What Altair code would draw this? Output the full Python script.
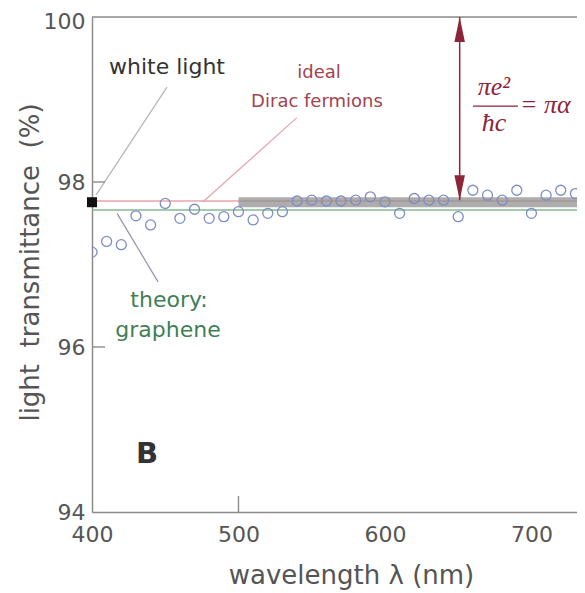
import altair as alt
import pandas as pd

# ---------------- data ----------------
wavelength = [400, 410, 420, 430, 440, 450, 460, 470, 480, 490,
              500, 510, 520, 530, 540, 550, 560, 570, 580, 590,
              600, 610, 620, 630, 640, 650, 660, 670, 680, 690,
              700, 710, 720, 730]
transmittance = [97.15, 97.28, 97.24, 97.59, 97.48, 97.74, 97.56, 97.67, 97.56, 97.58,
                 97.64, 97.54, 97.62, 97.64, 97.77, 97.78, 97.77, 97.77, 97.78, 97.82,
                 97.76, 97.62, 97.80, 97.78, 97.78, 97.58, 97.90, 97.84, 97.78, 97.90,
                 97.62, 97.84, 97.90, 97.86]

white_light_wl = [400]
white_light_T = [97.755]

ideal_x = [400, 750]
ideal_T = [97.77, 97.77]
band_x = [500, 750]
band_T = [97.755, 97.755]
theory_x = [400, 750]
theory_T = [97.66, 97.66]

x_domain = [400, 731.1]
y_domain = [94, 100]
x_tick_values = [400, 500, 600, 700]
y_tick_values = [94, 96, 98, 100]
inner_y_ticks = [96, 98]
inner_x_ticks = [500]
frame_top = [100]

# annotation anchors (data coordinates)
white_label = ["white light"]
white_label_x = [451.2]
white_label_y = [99.39]
ideal_labels = ["ideal", "Dirac fermions"]
ideal_labels_x = [555.0, 553.6]
ideal_labels_y = [99.32, 98.97]
theory_labels = ["theory:", "graphene"]
theory_labels_x = [452.6, 451.9]
theory_labels_y = [96.57, 96.21]
panel_label = ["B"]
panel_label_x = [437.5]
panel_label_y = [94.70]

leader_x = [451.2, 539.9, 417.1]
leader_y = [99.15, 98.78, 97.62]
leader_x2 = [402.7, 475.8, 445.1]
leader_y2 = [97.84, 97.76, 96.79]
leader_col = ["#b4b4b4", "#e8a4ae", "#9292b2"]

arrow_x = [651]
arrow_top = [100.0]
arrow_bottom = [97.78]

frac_num = ["πe²"]
frac_den = ["ħc"]
frac_x = [674.4]
frac_num_y = [99.05]
frac_den_y = [98.62]
frac_bar_x = [660.1]
frac_bar_x2 = [690.8]
frac_bar_y = [98.92]
eq_text = ["= πα"]
eq_x = [692.2]
eq_y = [98.84]

# ---------------- chart ----------------
W, H = 485, 495
FONT = "DejaVu Sans"
AX = "#8c8c8c"
TXT = "#555555"
RED = "#8e2438"

xs = alt.Scale(domain=x_domain, nice=False, zero=False)
ys = alt.Scale(domain=y_domain, nice=False, zero=False)

AXIS_X = alt.Axis(
    values=x_tick_values, title="wavelength λ (nm)", ticks=False, grid=False,
    labelFontSize=22, labelColor=TXT, labelFont=FONT, labelPadding=12, labelFlush=False,
    titleFont=FONT, titleFontSize=26, titleFontWeight="normal", titleColor=TXT,
    titleX=259, titleY=71, titleAlign="center", titleBaseline="alphabetic",
    domainColor=AX, domainWidth=1.5)
AXIS_Y = alt.Axis(
    values=y_tick_values, title="light\u00a0\u00a0transmittance\u00a0\u00a0(%)", ticks=False,
    grid=False, labelFontSize=22, labelColor=TXT, labelFont=FONT, labelPadding=7,
    labelFlush=False,
    labelOffset={"condition": {"test": "datum.value == 100", "value": 4}, "value": 0},
    titleFont=FONT, titleFontSize=26, titleFontWeight="normal", titleColor=TXT,
    titleAngle=270, titleX=-54, titleY=245, titleAlign="center", titleBaseline="alphabetic",
    domainColor=AX, domainWidth=1.5)


def X(field):
    return alt.X(field, type="quantitative", scale=xs, axis=AXIS_X)


def Y(field):
    return alt.Y(field, type="quantitative", scale=ys, axis=AXIS_Y)


def line(xv, yv, color, width, opacity=1.0):
    df = pd.DataFrame({"x": xv, "y": yv})
    return alt.Chart(df).mark_line(color=color, strokeWidth=width, opacity=opacity, clip=True).encode(
        x=X("x"), y=Y("y"))


def texts(labels, xv, yv, color, size, font=FONT, style="normal", weight="normal",
          align="center", baseline="middle"):
    df = pd.DataFrame({"t": labels, "x": xv, "y": yv})
    return alt.Chart(df).mark_text(color=color, fontSize=size, font=font, fontStyle=style,
                                   fontWeight=weight, align=align, baseline=baseline).encode(
        x=X("x"), y=Y("y"), text="t:N")


frame = alt.Chart(pd.DataFrame({"y": frame_top})).mark_rule(color=AX, strokeWidth=1.6).encode(
    y=Y("y"), x=alt.value(0), x2=alt.value(W))

ideal_line = line(ideal_x, ideal_T, "#eaa3ad", 1.5)
band = line(band_x, band_T, "#8e8e8e", 10, 0.72)
theory_line = line(theory_x, theory_T, "#86b892", 1.6)

leaders = alt.Chart(pd.DataFrame({"x": leader_x, "y": leader_y, "x2": leader_x2,
                                  "y2": leader_y2, "c": leader_col})).mark_rule(strokeWidth=1.2).encode(
    x=X("x"), y=Y("y"), x2="x2:Q", y2="y2:Q", color=alt.Color("c:N", scale=None))

arrow_df = pd.DataFrame({"x": arrow_x, "top": arrow_top, "bottom": arrow_bottom})
arrow_shaft = alt.Chart(arrow_df).mark_rule(color=RED, strokeWidth=1.5).encode(
    x=X("x"), y=Y("top"), y2="bottom:Q")
arrow_head_top = alt.Chart(arrow_df).mark_point(
    shape="M0,0L-0.42,2L0.42,2Z", size=625, filled=True, color=RED, opacity=1).encode(
    x=X("x"), y=Y("top"))
arrow_head_bottom = alt.Chart(arrow_df).mark_point(
    shape="M0,0L-0.42,-2L0.42,-2Z", size=625, filled=True, color=RED, opacity=1).encode(
    x=X("x"), y=Y("bottom"))

frac_bar = alt.Chart(pd.DataFrame({"x": frac_bar_x, "x2": frac_bar_x2, "y": frac_bar_y})).mark_rule(
    color=RED, strokeWidth=1.4).encode(x=X("x"), x2="x2:Q", y=Y("y"))

inner_yt = alt.Chart(pd.DataFrame({"v": inner_y_ticks})).mark_rule(color=AX, strokeWidth=1.4).encode(
    y=Y("v"), x=alt.value(0), x2=alt.value(13))
inner_xt = alt.Chart(pd.DataFrame({"v": inner_x_ticks})).mark_rule(color=AX, strokeWidth=1.4).encode(
    x=X("v"), y=alt.value(H), y2=alt.value(H - 16))

points = alt.Chart(pd.DataFrame({"x": wavelength, "y": transmittance})).mark_point(
    shape="circle", filled=False, size=100, strokeWidth=1.3, color="#7d8cc6", clip=True, opacity=1).encode(
    x=X("x"), y=Y("y"))

white_pt = alt.Chart(pd.DataFrame({"x": white_light_wl, "y": white_light_T})).mark_point(
    shape="square", filled=True, size=100, color="#111111", opacity=1).encode(x=X("x"), y=Y("y"))

chart = alt.layer(
    frame, ideal_line, band, theory_line, leaders, inner_yt, inner_xt,
    points, arrow_shaft, arrow_head_top, arrow_head_bottom, frac_bar, white_pt,
    texts(white_label, white_label_x, white_label_y, "#333333", 22),
    texts(ideal_labels, ideal_labels_x, ideal_labels_y, "#a3434f", 18),
    texts(theory_labels, theory_labels_x, theory_labels_y, "#3f7f55", 22),
    texts(panel_label, panel_label_x, panel_label_y, "#333333", 29, weight="bold"),
    texts(frac_num, frac_x, frac_num_y, RED, 26, font="Liberation Serif", style="italic",
          baseline="alphabetic"),
    texts(frac_den, frac_x, frac_den_y, RED, 26, font="Liberation Serif", style="italic",
          baseline="alphabetic"),
    texts(eq_text, eq_x, eq_y, RED, 26, font="Liberation Serif", style="italic",
          align="left", baseline="alphabetic"),
).properties(
    width=W, height=H,
    autosize=alt.AutoSizeParams(type="none"),
    padding={"left": 84, "top": 9, "right": 0, "bottom": 80},
).configure_view(stroke=None).configure(background="white")

chart.save("out.html", embed_options={"renderer": "svg", "actions": False})
